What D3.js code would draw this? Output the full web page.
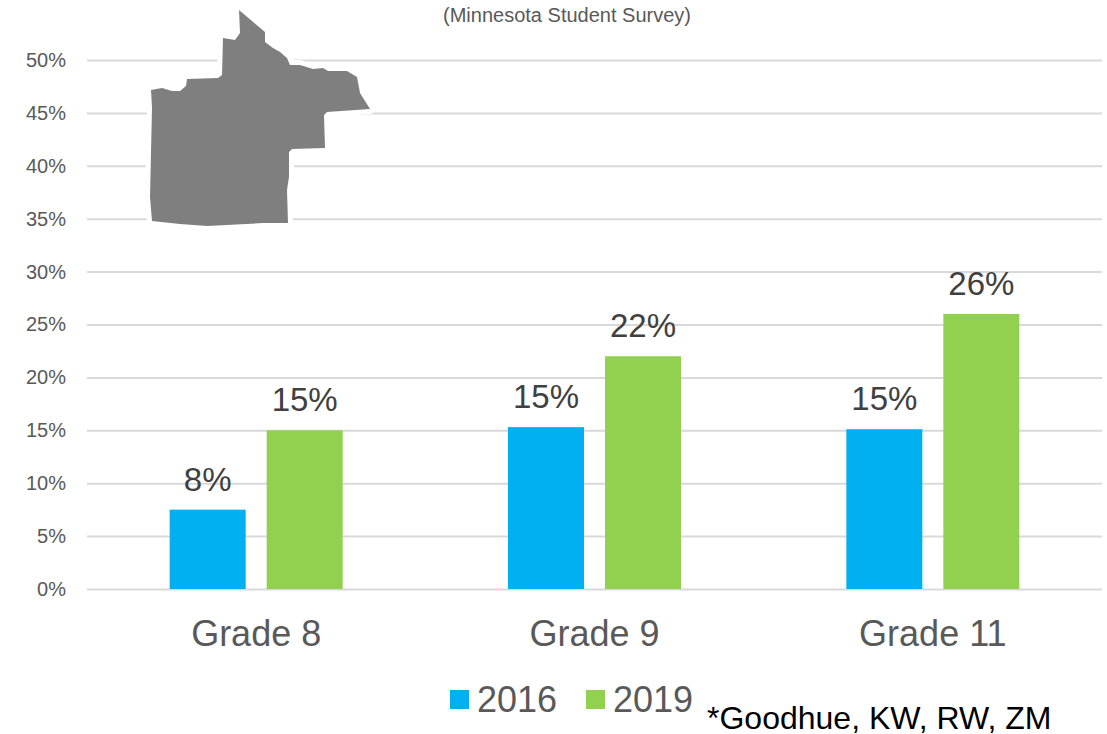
<!DOCTYPE html>
<html>
<head>
<meta charset="utf-8">
<script src="https://cdn.jsdelivr.net/npm/d3@7"></script>
<style>
  html, body { margin: 0; padding: 0; background: #fff; }
  text { font-family: "Liberation Sans", Arial, sans-serif; }
</style>
</head>
<body>
<div id="chart"></div>
<script>
const categories = ["Grade 8", "Grade 9", "Grade 11"];
const years = ["2016", "2019"];
const values2016 = [7.5, 15.3, 15.1];
const values2019 = [15, 22, 26];
const yTicks = [0, 5, 10, 15, 20, 25, 30, 35, 40, 45, 50];
const colors = ["#00b0f0", "#92d050"];

// county outline
const countyShape = [
    [239, 10], [252, 21], [265, 32], [265, 42], [273, 48], [280, 52], [287, 58], [290, 65],
    [300, 65], [313, 69], [323, 68], [328, 71], [347, 71], [357, 77], [360, 93], [370, 109],
    [327, 112], [324, 115], [325, 148], [292, 149], [289, 152], [289, 177], [287, 190],
    [288, 223], [263, 223], [207, 226], [180, 224], [152, 221], [150, 197], [152, 108],
    [151, 90], [162, 88], [172, 91], [180, 91], [186, 86], [187, 79], [218, 78], [222, 75],
    [223, 38], [235, 40], [240, 33], [239, 10]
];

const width = 1107, height = 734;
const margin = { top: 60, right: 5, bottom: 145, left: 87 };

const x = d3.scaleBand()
    .domain(categories)
    .range([margin.left, width - margin.right]);

const y = d3.scaleLinear()
    .domain([0, 50])
    .range([height - margin.bottom, margin.top]);

const barWidth = 76, barGap = 21;
const x1 = d3.scaleOrdinal()
    .domain(years)
    .range([-barWidth - barGap / 2, barGap / 2]);

const svg = d3.select("#chart")
    .append("svg")
    .attr("width", width)
    .attr("height", height)
    .style("display", "block");

// gridlines
svg.append("g")
    .attr("transform", `translate(${margin.left},0)`)
    .call(d3.axisLeft(y).tickValues(yTicks).tickFormat(d => d + "%").tickSize(-(width - margin.left - margin.right)).tickPadding(21))
    .call(g => g.select(".domain").remove())
    .call(g => g.selectAll("line").attr("stroke", "#d9d9d9").attr("stroke-width", 2))
    .call(g => g.selectAll("text").attr("fill", "#595959").attr("font-size", 20));

const series = [values2016, values2019];

series.forEach((vals, s) => {
    const g = svg.append("g").attr("fill", colors[s]);
    g.selectAll("rect")
        .data(vals)
        .join("rect")
        .attr("x", (d, i) => x(categories[i]) + x.bandwidth() / 2 + x1(years[s]))
        .attr("y", d => y(d))
        .attr("width", barWidth)
        .attr("height", d => y(0) - y(d));

    svg.append("g")
        .attr("fill", "#404040")
        .attr("font-size", 33)
        .attr("text-anchor", "middle")
        .selectAll("text")
        .data(vals)
        .join("text")
        .attr("x", (d, i) => x(categories[i]) + x.bandwidth() / 2 + x1(years[s]) + barWidth / 2)
        .attr("y", d => y(d) - 19)
        .text(d => Math.round(d) + "%");
});

// category labels
svg.append("g")
    .attr("fill", "#595959")
    .attr("font-size", 36)
    .attr("text-anchor", "middle")
    .selectAll("text")
    .data(categories)
    .join("text")
    .attr("x", d => x(d) + x.bandwidth() / 2)
    .attr("y", 646)
    .text(d => d);

// county map with white halo
const outline = d3.line().curve(d3.curveLinear);
svg.append("path")
    .attr("d", outline(countyShape))
    .attr("fill", "#7f7f7f")
    .attr("stroke", "#fff")
    .attr("stroke-width", 10)
    .attr("paint-order", "stroke")
    .attr("stroke-linejoin", "round");

svg.append("text")
    .attr("x", 567)
    .attr("y", 22)
    .attr("text-anchor", "middle")
    .attr("fill", "#595959")
    .attr("font-size", 20)
    .text("(Minnesota Student Survey)");

// legend
const legendX = [450, 586];
years.forEach((yr, i) => {
    svg.append("rect")
        .attr("x", legendX[i])
        .attr("y", 690)
        .attr("width", 19)
        .attr("height", 19)
        .attr("fill", colors[i]);
    svg.append("text")
        .attr("x", legendX[i] + 27)
        .attr("y", 712)
        .attr("fill", "#595959")
        .attr("font-size", 36)
        .text(yr);
});

svg.append("text")
    .attr("x", 707)
    .attr("y", 729)
    .attr("fill", "#000")
    .attr("font-size", 32)
    .text("*Goodhue, KW, RW, ZM");
</script>
</body>
</html>
